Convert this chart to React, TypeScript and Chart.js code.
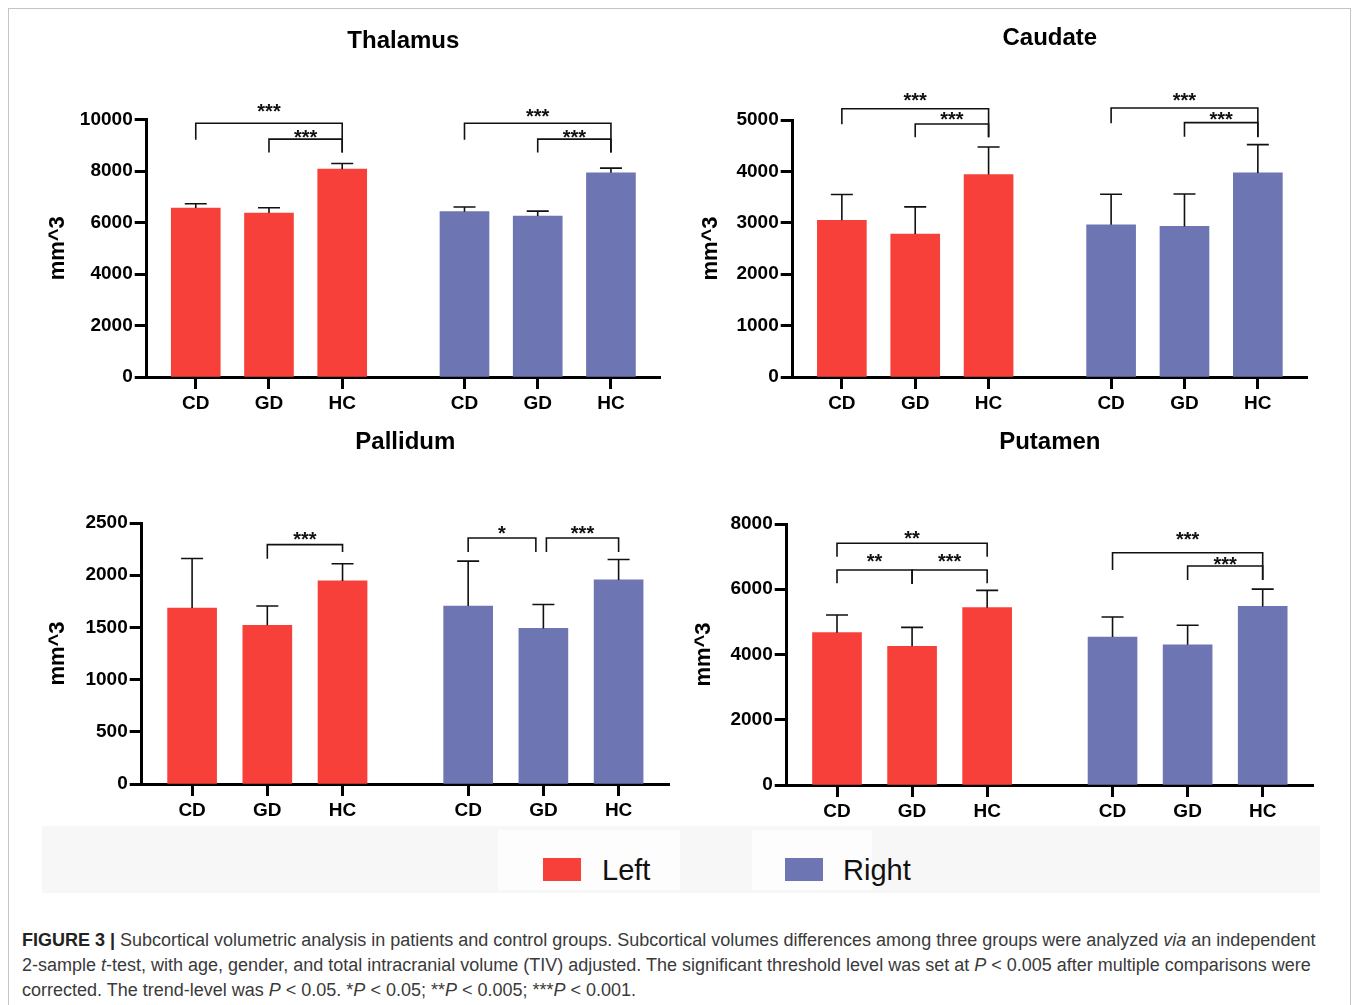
import React, { useEffect, useRef } from "react";
import { Chart, registerables } from "chart.js";

Chart.register(...registerables);
Chart.defaults.font.family = "'Liberation Sans', Arial, sans-serif";
Chart.defaults.color = "#000";

// ---------- data ----------
const groupLabels = ["CD", "GD", "HC", "CD", "GD", "HC"];
const seriesNames = ["Left", "Right"];

const thalamusLeft = [6560, 6370, 8070];
const thalamusLeftSD = [170, 200, 220];
const thalamusRight = [6420, 6250, 7930];
const thalamusRightSD = [180, 190, 180];

const caudateLeft = [3050, 2780, 3940];
const caudateLeftSD = [500, 530, 535];
const caudateRight = [2960, 2930, 3970];
const caudateRightSD = [595, 630, 550];

const pallidumLeft = [1685, 1520, 1945];
const pallidumLeftSD = [475, 185, 165];
const pallidumRight = [1705, 1490, 1955];
const pallidumRightSD = [430, 230, 195];

const putamenLeft = [4670, 4250, 5435];
const putamenLeftSD = [540, 580, 530];
const putamenRight = [4535, 4300, 5475];
const putamenRightSD = [615, 595, 530];

// significance brackets: legs = [groupIndex, legBottomValue, xShift?]
type Bracket = { legs: [number, number, number?][]; top: number; label: string; labelY: number };

const thalamusBrackets: Bracket[] = [
  { legs: [[0, 9213], [2, 8721]], top: 9857, label: "***", labelY: 10516 },
  { legs: [[1, 8721], [2, 8721]], top: 9237, label: "***", labelY: 9508 },
  { legs: [[3, 9213], [5, 8721]], top: 9857, label: "***", labelY: 10310 },
  { legs: [[4, 8721], [5, 8721]], top: 9237, label: "***", labelY: 9508 },
];
const caudateBrackets: Bracket[] = [
  { legs: [[0, 4916], [2, 4663]], top: 5220, label: "***", labelY: 5467 },
  { legs: [[1, 4663], [2, 4663]], top: 4922, label: "***", labelY: 5111 },
  { legs: [[3, 4936], [5, 4663]], top: 5233, label: "***", labelY: 5467 },
  { legs: [[4, 4675], [5, 4675]], top: 4948, label: "***", labelY: 5111 },
];
const pallidumBrackets: Bracket[] = [
  { legs: [[1, 2158], [2, 2222]], top: 2293, label: "***", labelY: 2389 },
  { legs: [[3, 2222], [4, 2222, -0.1]], top: 2356, label: "*", labelY: 2446 },
  { legs: [[4, 2222, 0.04], [5, 2222]], top: 2356, label: "***", labelY: 2446 },
];
const putamenBrackets: Bracket[] = [
  { legs: [[0, 6998], [2, 6998]], top: 7408, label: "**", labelY: 7714 },
  { legs: [[0, 6182], [1, 6161]], top: 6590, label: "**", labelY: 6998 },
  { legs: [[1, 6161], [2, 6182]], top: 6590, label: "***", labelY: 6998 },
  { legs: [[3, 6590], [5, 6284]], top: 7120, label: "***", labelY: 7663 },
  { legs: [[4, 6284], [5, 6284]], top: 6713, label: "***", labelY: 6897 },
];

// ---------- layout / style ----------
const RED = "#F8403A";
const BLUE = "#6D76B2";
const GROUP_GAP = 1.67; // axis units between HC (left) and CD (right)
const X_POS = [0, 1, 2, GROUP_GAP + 2, GROUP_GAP + 3, GROUP_GAP + 4];
const X_MIN = -0.67;
const X_MAX = GROUP_GAP + 4 + 0.67;

type Frame = { l: number; t: number; r: number; b: number; yTitleX: number; titleY: number };

const frames: Record<string, Frame> = {
  Thalamus: { l: 146.7, t: 119.5, r: 660, b: 377, yTitleX: 58, titleY: 41 },
  Caudate: { l: 792.7, t: 120, r: 1307, b: 377, yTitleX: 711, titleY: 38 },
  Pallidum: { l: 141.7, t: 523, r: 669, b: 784, yTitleX: 58.6, titleY: 442 },
  Putamen: { l: 786.7, t: 524, r: 1313, b: 785, yTitleX: 704, titleY: 442 },
};

type PanelProps = {
  title: string;
  left: number[];
  leftSD: number[];
  right: number[];
  rightSD: number[];
  yMax: number;
  yStep: number;
  brackets: Bracket[];
};

const panels: PanelProps[] = [
  { title: "Thalamus", left: thalamusLeft, leftSD: thalamusLeftSD, right: thalamusRight, rightSD: thalamusRightSD, yMax: 10000, yStep: 2000, brackets: thalamusBrackets },
  { title: "Caudate", left: caudateLeft, leftSD: caudateLeftSD, right: caudateRight, rightSD: caudateRightSD, yMax: 5000, yStep: 1000, brackets: caudateBrackets },
  { title: "Pallidum", left: pallidumLeft, leftSD: pallidumLeftSD, right: pallidumRight, rightSD: pallidumRightSD, yMax: 2500, yStep: 500, brackets: pallidumBrackets },
  { title: "Putamen", left: putamenLeft, leftSD: putamenLeftSD, right: putamenRight, rightSD: putamenRightSD, yMax: 8000, yStep: 2000, brackets: putamenBrackets },
];

const STAR_SIZE = 20;

function Panel(p: PanelProps) {
  const ref = useRef<HTMLCanvasElement | null>(null);
  const f = frames[p.title];
  const padL = 4;
  const padT = 110;
  const xAxisH = 45;
  const canvasLeft = Math.round(f.yTitleX - 17.2 - padL);
  const canvasTop = Math.round(f.t - padT);
  const axisW = f.l - canvasLeft - padL;
  const realPadT = f.t - canvasTop;
  const canvasW = Math.ceil(f.r + 15 - canvasLeft);
  const canvasH = Math.ceil(f.b + xAxisH + 5 - canvasTop);
  const padR = canvasLeft + canvasW - f.r;
  const padB = canvasTop + canvasH - f.b - xAxisH;

  useEffect(() => {
    if (!ref.current) return;
    const sds = [p.leftSD, p.rightSD];
    const annotate = {
      id: "annotate",
      afterDatasetsDraw(chart: any) {
        const { ctx, chartArea, scales } = chart;
        const x = scales.x;
        const y = scales.y;
        ctx.save();
        ctx.strokeStyle = "#111";
        ctx.lineWidth = 1.6;
        // error bars (upper only)
        chart.data.datasets.forEach((ds: any, di: number) => {
          ds.data.forEach((pt: any, i: number) => {
            const px = x.getPixelForValue(pt.x);
            const y0 = y.getPixelForValue(pt.y);
            const y1 = y.getPixelForValue(pt.y + sds[di][i]);
            ctx.beginPath();
            ctx.moveTo(px, y0);
            ctx.lineTo(px, y1);
            ctx.moveTo(px - 11, y1);
            ctx.lineTo(px + 11, y1);
            ctx.stroke();
          });
        });
        // brackets
        ctx.fillStyle = "#111";
        ctx.font = `bold ${STAR_SIZE}px 'Liberation Sans', Arial, sans-serif`;
        ctx.textAlign = "center";
        ctx.textBaseline = "alphabetic";
        p.brackets.forEach((b) => {
          const xs = b.legs.map((l) => x.getPixelForValue(X_POS[l[0]] + (l[2] || 0)));
          const yt = y.getPixelForValue(b.top);
          ctx.beginPath();
          ctx.moveTo(xs[0], y.getPixelForValue(b.legs[0][1]));
          ctx.lineTo(xs[0], yt);
          ctx.lineTo(xs[1], yt);
          ctx.lineTo(xs[1], y.getPixelForValue(b.legs[1][1]));
          ctx.stroke();
          ctx.fillText(b.label, (xs[0] + xs[1]) / 2, y.getPixelForValue(b.labelY) + 0.57 * STAR_SIZE);
        });
        // title
        ctx.fillStyle = "#000";
        ctx.font = "bold 24px 'Liberation Sans', Arial, sans-serif";
        ctx.textBaseline = "middle";
        ctx.fillText(p.title, (chartArea.left + chartArea.right) / 2, f.titleY - canvasTop);
        ctx.restore();
      },
    };

    const chart = new Chart(ref.current, {
      type: "bar",
      data: {
        datasets: [
          {
            label: seriesNames[0],
            data: p.left.map((v, i) => ({ x: X_POS[i], y: v })),
            backgroundColor: RED,
            borderWidth: 0,
            barThickness: 49,
            grouped: false,
          } as any,
          {
            label: seriesNames[1],
            data: p.right.map((v, i) => ({ x: X_POS[i + 3], y: v })),
            backgroundColor: BLUE,
            borderWidth: 0,
            barThickness: 49,
            grouped: false,
          } as any,
        ],
      },
      options: {
        animation: false,
        responsive: false,
        maintainAspectRatio: false,
        devicePixelRatio: 1,
        layout: { padding: { left: padL, top: realPadT, right: padR, bottom: padB } },
        plugins: { legend: { display: false }, tooltip: { enabled: false }, title: { display: false } },
        scales: {
          x: {
            type: "linear",
            offset: false,
            min: X_MIN,
            max: X_MAX,
            afterBuildTicks: (s: any) => {
              s.ticks = X_POS.map((v) => ({ value: v }));
            },
            afterFit: (s: any) => {
              s.height = xAxisH;
            },
            ticks: {
              autoSkip: false,
              maxRotation: 0,
              padding: 3,
              color: "#000",
              font: { size: 19, weight: "bold" },
              callback: (_v: any, i: number) => groupLabels[i],
            },
            grid: { offset: false, drawOnChartArea: false, drawTicks: true, tickLength: 12, tickWidth: 3, tickColor: "#000" },
            border: { display: true, width: 3, color: "#000" },
          } as any,
          y: {
            min: 0,
            max: p.yMax,
            afterFit: (s: any) => {
              s.width = axisW;
            },
            ticks: {
              stepSize: p.yStep,
              padding: 2,
              color: "#000",
              font: { size: 19, weight: "bold" },
              callback: (v: any) => String(v),
            },
            title: { display: true, text: "mm^3", color: "#000", font: { size: 22, weight: "bold" } },
            grid: { drawOnChartArea: false, drawTicks: true, tickLength: 12, tickWidth: 3, tickColor: "#000" },
            border: { display: true, width: 3, color: "#000" },
          } as any,
        },
      },
      plugins: [annotate as any],
    });
    return () => chart.destroy();
  }, []);

  return (
    <canvas
      ref={ref}
      width={canvasW}
      height={canvasH}
      style={{ position: "absolute", left: canvasLeft, top: canvasTop, width: canvasW, height: canvasH }}
    />
  );
}

export default function App() {
  const legendText: React.CSSProperties = {
    position: "absolute",
    top: 852,
    fontSize: 29,
    lineHeight: "36px",
    color: "#111",
    fontFamily: "'Liberation Sans', Arial, sans-serif",
  };
  const cap: React.CSSProperties = {
    position: "absolute",
    left: 22,
    fontSize: 18,
    lineHeight: "25px",
    color: "#3a3a3a",
    whiteSpace: "nowrap",
    fontFamily: "'Liberation Sans', Arial, sans-serif",
  };
  return (
    <div style={{ position: "absolute", left: 0, top: 0, width: 1358, height: 1005, overflow: "hidden", background: "#fff" }}>
      <div style={{ position: "absolute", left: 8, top: 8, width: 1341, height: 1040, border: "1px solid #c4c4c4" }} />
      {panels.map((p) => (
        <Panel key={p.title} {...p} />
      ))}
      {/* legend */}
      <div style={{ position: "absolute", left: 42, top: 826, width: 1278, height: 67, background: "#f7f7f7" }} />
      <div style={{ position: "absolute", left: 498, top: 830, width: 182, height: 60, background: "#fdfdfd" }} />
      <div style={{ position: "absolute", left: 752, top: 830, width: 120, height: 60, background: "#fdfdfd" }} />
      <div style={{ position: "absolute", left: 543, top: 858, width: 38, height: 23, background: RED }} />
      <div style={{ ...legendText, left: 602 }}>{seriesNames[0]}</div>
      <div style={{ position: "absolute", left: 785, top: 858, width: 38, height: 23, background: BLUE }} />
      <div style={{ ...legendText, left: 843 }}>{seriesNames[1]}</div>
      {/* caption */}
      <div style={{ ...cap, top: 927.5 }}>
        <b style={{ color: "#222" }}>FIGURE 3 |</b> Subcortical volumetric analysis in patients and control groups. Subcortical volumes differences among three groups were analyzed <i>via</i> an independent
      </div>
      <div style={{ ...cap, top: 952.5 }}>
        2-sample <i>t</i>-test, with age, gender, and total intracranial volume (TIV) adjusted. The significant threshold level was set at <i>P</i> &lt; 0.005 after multiple comparisons were
      </div>
      <div style={{ ...cap, top: 977.5 }}>
        corrected. The trend-level was <i>P</i> &lt; 0.05. *<i>P</i> &lt; 0.05; **<i>P</i> &lt; 0.005; ***<i>P</i> &lt; 0.001.
      </div>
    </div>
  );
}
